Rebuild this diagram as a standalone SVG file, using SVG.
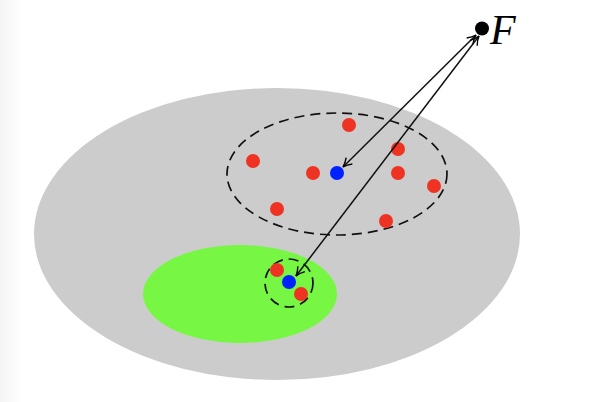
<svg xmlns="http://www.w3.org/2000/svg" width="590" height="402" viewBox="0 0 590 402">
<defs>
<linearGradient id="edge" x1="0" y1="0" x2="1" y2="0">
<stop offset="0" stop-color="#f4f4f4"/><stop offset="1" stop-color="#ffffff"/>
</linearGradient>
<marker id="ah" viewBox="0 0 10 10" refX="9" refY="5" markerWidth="11" markerHeight="11" orient="auto-start-reverse" markerUnits="userSpaceOnUse">
<path d="M1,1 Q5,4 9,5 Q5,6 1,9" fill="none" stroke="#000" stroke-width="1.3"/>
</marker>
</defs>
<style>
.red{fill:#ee3322}
.blue{fill:#0022ff}
.dash{fill:none;stroke:#111;stroke-width:1.7;stroke-dasharray:10 6}
.arr{fill:none;stroke:#111;stroke-width:1.5;marker-start:url(#ah);marker-end:url(#ah)}
</style>
<rect width="590" height="402" fill="#fff"/>
<rect width="22" height="402" fill="url(#edge)"/>
<g id="region">
<ellipse cx="277" cy="234" rx="243" ry="146" fill="#cccccc"/>
</g>
<g id="subregion">
<ellipse cx="240" cy="294" rx="97" ry="49" fill="#77f744"/>
</g>
<g id="cluster-far">
<ellipse class="dash" cx="337" cy="174" rx="110" ry="61"/>
<circle class="red" cx="349" cy="125" r="7"/>
<circle class="red" cx="253" cy="161" r="7"/>
<circle class="red" cx="313" cy="173" r="7"/>
<circle class="red" cx="398" cy="149" r="7"/>
<circle class="red" cx="398" cy="173" r="7"/>
<circle class="red" cx="434" cy="186" r="7"/>
<circle class="red" cx="277" cy="209" r="7"/>
<circle class="red" cx="386" cy="221" r="7"/>
<circle class="blue" cx="337" cy="173" r="7"/>
</g>
<g id="cluster-near">
<circle class="dash" cx="289" cy="283" r="24"/>
<circle class="red" cx="277" cy="270" r="7"/>
<circle class="red" cx="301" cy="294" r="7"/>
<circle class="blue" cx="289" cy="282" r="7"/>
</g>
<g id="F">
<circle cx="482" cy="28.5" r="7" fill="#000"/>
<text x="490" y="44" font-family="'Liberation Serif', 'DejaVu Serif', serif" font-style="italic" font-size="42">F</text>
</g>
<g id="connectors">
<line class="arr" x1="476" y1="35" x2="343" y2="167"/>
<line class="arr" x1="479" y1="36" x2="296" y2="276"/>
</g>
</svg>
